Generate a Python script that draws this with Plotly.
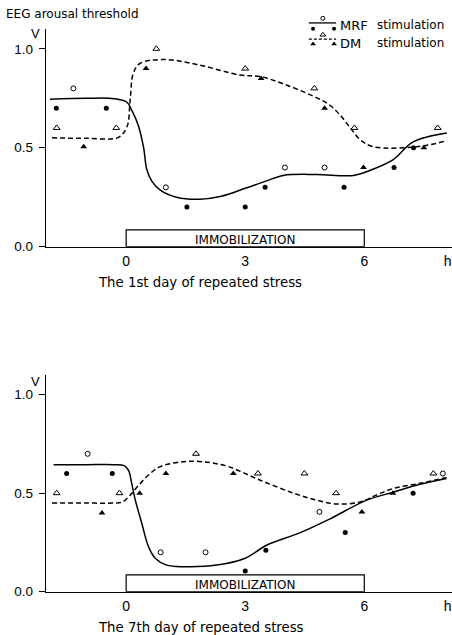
import plotly.graph_objects as go

W, H = 452, 635
FONT = "DejaVu Sans"
TICKFONT = "Liberation Sans"

# ---------------- data (hours, volts) ----------------
# Day 1
d1_mrf_open_x = [-1.33, 1.0, 4.0, 5.0]
d1_mrf_open_y = [0.80, 0.30, 0.40, 0.40]
d1_mrf_fill_x = [-1.76, -0.50, 1.53, 3.0, 3.5, 5.49, 6.75, 7.24]
d1_mrf_fill_y = [0.70, 0.70, 0.20, 0.20, 0.30, 0.30, 0.40, 0.50]
d1_dm_open_x = [-1.75, -0.25, 0.76, 3.0, 4.74, 5.75, 7.85]
d1_dm_open_y = [0.60, 0.60, 1.00, 0.90, 0.80, 0.60, 0.60]
d1_dm_fill_x = [-1.07, 0.50, 3.40, 5.0, 5.98, 7.5]
d1_dm_fill_y = [0.505, 0.90, 0.85, 0.70, 0.40, 0.50]

d1_mrf_curve_x = [-1.92, -1.0, -0.3, 0.02, 0.14, 0.31, 0.44, 0.52, 0.65, 0.86, 1.27, 1.86,
                  2.4, 3.0, 3.5, 3.96, 4.8, 5.73, 6.2, 6.73, 7.23, 8.08]
d1_mrf_curve_y = [0.745, 0.75, 0.748, 0.73, 0.69, 0.61, 0.50, 0.39, 0.33, 0.286, 0.25, 0.24,
                  0.255, 0.295, 0.33, 0.36, 0.365, 0.36, 0.39, 0.44, 0.53, 0.575]
d1_dm_curve_x = [-1.87, -1.0, -0.2, 0.02, 0.10, 0.18, 0.35, 0.94, 1.8, 2.87, 3.37, 4.0,
                 4.72, 5.1, 5.39, 5.65, 5.9, 6.23, 7.32, 8.08]
d1_dm_curve_y = [0.55, 0.548, 0.552, 0.606, 0.74, 0.876, 0.926, 0.946, 0.92, 0.867, 0.86, 0.82,
                 0.76, 0.72, 0.665, 0.60, 0.54, 0.505, 0.505, 0.535]

# Day 7
d7_mrf_open_x = [-0.97, 0.87, 2.0, 4.87, 7.98]
d7_mrf_open_y = [0.70, 0.20, 0.20, 0.405, 0.60]
d7_mrf_fill_x = [-1.5, -0.35, 3.0, 3.52, 5.52, 7.23]
d7_mrf_fill_y = [0.60, 0.60, 0.105, 0.21, 0.30, 0.50]
d7_dm_open_x = [-1.75, -0.17, 1.76, 3.32, 4.49, 5.29, 7.74]
d7_dm_open_y = [0.50, 0.50, 0.70, 0.60, 0.60, 0.50, 0.60]
d7_dm_fill_x = [-0.61, 0.34, 1.0, 2.70, 5.94, 6.72]
d7_dm_fill_y = [0.40, 0.50, 0.60, 0.60, 0.405, 0.50]

d7_mrf_curve_x = [-1.83, -1.0, -0.3, -0.05, 0.06, 0.14, 0.23, 0.39, 0.56, 0.73, 1.02, 1.44,
                  2.28, 3.0, 3.55, 4.39, 5.14, 6.06, 6.73, 7.4, 8.07]
d7_mrf_curve_y = [0.645, 0.645, 0.645, 0.64, 0.616, 0.55, 0.465, 0.35, 0.23, 0.17, 0.135, 0.127,
                  0.135, 0.17, 0.237, 0.30, 0.37, 0.465, 0.505, 0.545, 0.575]
d7_dm_curve_x = [-1.87, -1.0, -0.3, -0.1, 0.1, 0.27, 0.55, 0.86, 1.44, 1.9, 2.54, 3.38,
                 4.22, 4.8, 5.31, 5.9, 6.3, 6.73, 7.4, 8.07]
d7_dm_curve_y = [0.45, 0.45, 0.45, 0.455, 0.49, 0.53, 0.59, 0.635, 0.66, 0.66, 0.637, 0.566,
                 0.50, 0.465, 0.445, 0.456, 0.49, 0.524, 0.55, 0.58]

immob_start, immob_end, immob_height = 0, 6, 0.085
x_tickvals = [0, 3, 6, 8.1]
x_ticktext = ["0", "3", "6", "h"]
y_tickvals = [0, 0.5, 1.0]
y_ticktext = ["0.0", "0.5", "1.0"]

# ---------------- figure ----------------
fig = go.Figure()

def add_panel(xa, ya, mrf_cx, mrf_cy, dm_cx, dm_cy, mo_x, mo_y, mf_x, mf_y, do_x, do_y, df_x, df_y):
    fig.add_trace(go.Scatter(x=mrf_cx, y=mrf_cy, mode="lines", xaxis=xa, yaxis=ya,
                             line=dict(color="black", width=1.5, shape="spline", smoothing=1.0),
                             showlegend=False, hoverinfo="skip"))
    fig.add_trace(go.Scatter(x=dm_cx, y=dm_cy, mode="lines", xaxis=xa, yaxis=ya,
                             line=dict(color="black", width=1.5, dash="5px,3px", shape="spline", smoothing=1.0),
                             showlegend=False, hoverinfo="skip"))
    fig.add_trace(go.Scatter(x=mo_x, y=mo_y, mode="markers", xaxis=xa, yaxis=ya,
                             marker=dict(symbol="circle-open", size=5, color="black", line=dict(width=1)),
                             showlegend=False))
    fig.add_trace(go.Scatter(x=mf_x, y=mf_y, mode="markers", xaxis=xa, yaxis=ya,
                             marker=dict(symbol="circle", size=5, color="black"),
                             showlegend=False))
    fig.add_trace(go.Scatter(x=do_x, y=do_y, mode="markers", xaxis=xa, yaxis=ya,
                             marker=dict(symbol="triangle-up-open", size=6, color="black", line=dict(width=1)),
                             showlegend=False))
    fig.add_trace(go.Scatter(x=df_x, y=df_y, mode="markers", xaxis=xa, yaxis=ya,
                             marker=dict(symbol="triangle-up", size=6, color="black"),
                             showlegend=False))
    fig.add_shape(type="rect", xref=xa, yref=ya, x0=immob_start, x1=immob_end, y0=0, y1=immob_height,
                  line=dict(color="black", width=1.2), fillcolor="white", layer="below")
    fig.add_annotation(xref=xa, yref=ya, x=(immob_start + immob_end) / 2, y=immob_height * 0.42,
                       text="IMMOBILIZATION", showarrow=False,
                       font=dict(family=FONT, size=12, color="black"))

add_panel("x", "y", d1_mrf_curve_x, d1_mrf_curve_y, d1_dm_curve_x, d1_dm_curve_y,
          d1_mrf_open_x, d1_mrf_open_y, d1_mrf_fill_x, d1_mrf_fill_y,
          d1_dm_open_x, d1_dm_open_y, d1_dm_fill_x, d1_dm_fill_y)
add_panel("x2", "y2", d7_mrf_curve_x, d7_mrf_curve_y, d7_dm_curve_x, d7_dm_curve_y,
          d7_mrf_open_x, d7_mrf_open_y, d7_mrf_fill_x, d7_mrf_fill_y,
          d7_dm_open_x, d7_dm_open_y, d7_dm_fill_x, d7_dm_fill_y)

# ---------------- legend glyphs (small dedicated axes) ----------------
leg_line_x = [0.11, 0.89]
fig.add_trace(go.Scatter(x=leg_line_x, y=[0.76, 0.76], mode="lines", xaxis="x3", yaxis="y3",
                         line=dict(color="black", width=1.3), showlegend=False, hoverinfo="skip"))
fig.add_trace(go.Scatter(x=leg_line_x, y=[0.27, 0.27], mode="lines", xaxis="x3", yaxis="y3",
                         line=dict(color="black", width=1.3, dash="3px,2px"), showlegend=False, hoverinfo="skip"))
fig.add_trace(go.Scatter(x=[0.51], y=[0.90], mode="markers", xaxis="x3", yaxis="y3",
                         marker=dict(symbol="circle-open", size=4, color="black", line=dict(width=1)),
                         showlegend=False))
fig.add_trace(go.Scatter(x=[0.23, 0.83], y=[0.58, 0.58], mode="markers", xaxis="x3", yaxis="y3",
                         marker=dict(symbol="circle", size=4, color="black"), showlegend=False))
fig.add_trace(go.Scatter(x=[0.51], y=[0.40], mode="markers", xaxis="x3", yaxis="y3",
                         marker=dict(symbol="triangle-up-open", size=5, color="black", line=dict(width=1)),
                         showlegend=False))
fig.add_trace(go.Scatter(x=[0.23, 0.83], y=[0.12, 0.12], mode="markers", xaxis="x3", yaxis="y3",
                         marker=dict(symbol="triangle-up", size=5, color="black"), showlegend=False))

def px_x(p):
    return p / W

def px_y(p):
    return 1 - p / H

axis_common = dict(showgrid=False, zeroline=False, showline=True, linecolor="black", linewidth=1.3,
                   automargin=False)
xcommon = dict(axis_common, range=[-2.02, 8.21], tickvals=x_tickvals, ticktext=x_ticktext, ticks="",
               ticklabelstandoff=1,
               tickfont=dict(family=TICKFONT, size=14, color="black"), domain=[px_x(46), 1.0])
ycommon = dict(axis_common, range=[0, 1.10], tickvals=y_tickvals, ticktext=y_ticktext, ticks="outside",
               ticklen=6, tickwidth=1, tickcolor="black", ticklabelstandoff=3,
               tickfont=dict(family=TICKFONT, size=13.5, color="black"))

fig.update_layout(
    width=W, height=H,
    margin=dict(l=0, r=0, t=0, b=0),
    paper_bgcolor="white", plot_bgcolor="white",
    showlegend=False,
    xaxis=dict(xcommon, anchor="y"),
    yaxis=dict(ycommon, anchor="x", domain=[px_y(246.7), px_y(29)]),
    xaxis2=dict(xcommon, anchor="y2"),
    yaxis2=dict(ycommon, anchor="x2", domain=[px_y(591.7), px_y(375)]),
    xaxis3=dict(range=[0, 1], domain=[px_x(305), px_x(340)], visible=False, anchor="y3"),
    yaxis3=dict(range=[0, 1], domain=[px_y(48), px_y(15)], visible=False, anchor="x3"),
)

def text(x, y, s, size=13, anchor="left", family=FONT):
    fig.add_annotation(xref="paper", yref="paper", x=px_x(x), y=px_y(y), text=s, showarrow=False,
                       xanchor=anchor, yanchor="middle", xshift=-1,
                       font=dict(family=family, size=size, color="black"))

text(5, 14, "EEG arousal threshold", 12)
text(36, 33, "V", 13, "center", TICKFONT)
text(36, 381, "V", 13, "center", TICKFONT)
text(339, 25, "MRF", 13)
text(376, 25, "stimulation", 12)
text(339, 43, "DM", 13)
text(376, 43, "stimulation", 12)
text(97, 282, "The 1st day of repeated stress", 13.3)
text(97, 627, "The 7th day of repeated stress", 13.3)

fig.write_html("out.html")
